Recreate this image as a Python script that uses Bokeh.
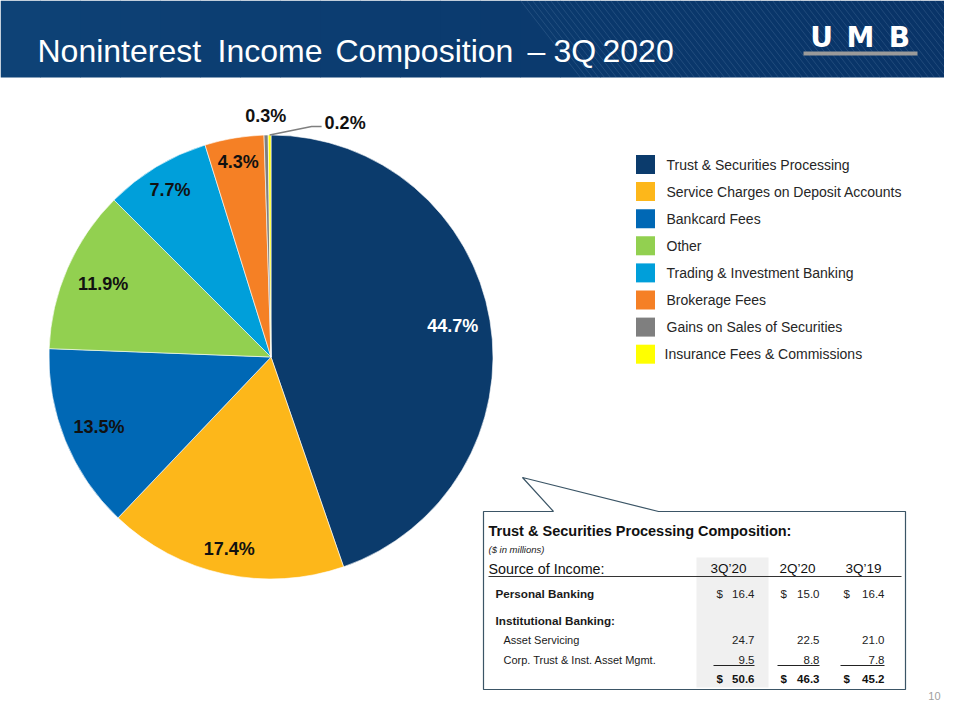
import math
from bokeh.plotting import figure
from bokeh.models import Range1d
from bokeh.core.properties import value
from bokeh.embed import file_html
from bokeh.resources import INLINE

# ---------------- data ----------------
title_words = ["Noninterest", "Income", "Composition", "–", "3Q", "2020"]
categories = ["Trust & Securities Processing", "Service Charges on Deposit Accounts",
              "Bankcard Fees", "Other", "Trading & Investment Banking",
              "Brokerage Fees", "Gains on Sales of Securities", "Insurance Fees & Commissions"]
shares = [44.7, 17.4, 13.5, 11.9, 7.7, 4.3, 0.3, 0.2]
colors = ["#0B3B6C", "#FDB71A", "#0068B5", "#92D050", "#009FDA", "#F58025", "#7F7F7F", "#FFFF00"]

table_title = "Trust & Securities Processing Composition:"
table_unit = "($ in millions)"
periods = ["3Q\u201920", "2Q\u201920", "3Q\u201919"]
personal_banking = [16.4, 15.0, 16.4]
asset_servicing = [24.7, 22.5, 21.0]
corp_trust = [9.5, 8.8, 7.8]
totals = [50.6, 46.3, 45.2]
page_number = "10"

# ---------------- layout helpers ----------------
F = "Liberation Sans"
H = 720


def Y(y):
    return H - y


p = figure(width=944, height=704, x_range=Range1d(0, 944), y_range=Range1d(16, 720),
           output_backend="svg", toolbar_location=None, min_border=0)
p.axis.visible = False
p.grid.visible = False
p.outline_line_color = None
p.background_fill_color = "white"
p.border_fill_color = "white"


def txt(x, y, s, size, style="normal", align="left", baseline="middle", color="#1a1a1a", font=F):
    p.text(x=[x], y=[Y(y)], text=[s], text_font=value(font), text_font_size=size,
           text_font_style=style, text_align=align, text_baseline=baseline, text_color=color)


# ---------------- title bar ----------------
n_strips = 24
for i in range(n_strips):
    t = i / (n_strips - 1)
    r = int(14 + (9 - 14) * t)
    g = int(66 + (52 - 66) * t)
    b = int(118 + (104 - 118) * t)
    x0 = i * 960 / n_strips
    p.quad(left=x0, right=x0 + 960 / n_strips + 0.5, top=Y(0), bottom=Y(77),
           fill_color=f"#{r:02x}{g:02x}{b:02x}", line_color=None)
# diagonal texture on right part of bar
xs, ys = [], []
x0 = 520
while x0 < 1040:
    xs.append([x0, x0 + 60])
    ys.append([Y(0), Y(77)])
    x0 += 6
p.multi_line(xs=xs, ys=ys, line_color="#9fc0e0", line_alpha=0.16, line_width=1)

title_x = [37, 217, 335, 527, 553, 602]
for w, x in zip(title_words, title_x):
    txt(x, 50, w, "32px", baseline="alphabetic", color="white")

# logo
for letter, cx_ in zip("UMB", [821, 860, 899]):
    txt(cx_, 37, letter, "28px", style="bold", align="center", color="white", font="DejaVu Sans")
p.quad(left=803, right=917, top=Y(51), bottom=Y(55), fill_color="#9a9a9a", line_color=None)

# ---------------- pie ----------------
cx, cy, R = 270.5, Y(356.5), 222.0
starts, ends, mids = [], [], []
cum = 0.0
for s in shares:
    a0 = math.pi / 2 - 2 * math.pi * cum / 100.0
    cum += s
    a1 = math.pi / 2 - 2 * math.pi * cum / 100.0
    starts.append(a0)
    ends.append(a1)
    mids.append((a0 + a1) / 2)
p.wedge(x=[cx] * len(shares), y=[cy] * len(shares), radius=R, start_angle=starts,
        end_angle=ends, direction="clock", fill_color=colors, line_color="white", line_width=0.6)

label_frac = [0.83, 0.885, 0.836, 0.825, 0.88, 0.89, 1.085]
for i, f in enumerate(label_frac):
    lx = cx + R * f * math.cos(mids[i])
    ly = cy + R * f * math.sin(mids[i])
    col = "white" if i == 0 else "#111111"
    p.text(x=[lx], y=[ly], text=[f"{shares[i]:.1f}%"], text_font=value(F), text_font_size="18px",
           text_font_style="bold", text_align="center", text_baseline="middle", text_color=col)
# small slice with leader line
ex = cx + R * math.cos(mids[7])
ey = cy + R * math.sin(mids[7])
p.line(x=[ex, ex + 42, ex + 52], y=[ey, ey + 8.5, ey + 8.5], line_color="#7F7F7F", line_width=1.5)
p.text(x=[ex + 55], y=[ey + 12], text=[f"{shares[7]:.1f}%"], text_font=value(F), text_font_size="18px",
       text_font_style="bold", text_align="left", text_baseline="middle", text_color="#111111")

# ---------------- legend ----------------
for i, (cat, col) in enumerate(zip(categories, colors)):
    yy = 164 + 27.1 * i
    p.rect(x=[645], y=[Y(yy)], width=19, height=19, fill_color=col, line_color=None)
    txt(666 if i < 7 else 664, yy, cat, "14px", color="#262626")

# ---------------- table with callout ----------------
box_x = [553, 483, 483, 905, 905, 658, 522, 553]
box_y = [511, 511, 689, 689, 511, 511, 477, 511]
p.patch(x=box_x, y=[Y(v) for v in box_y], fill_color="white", line_color="#3b5566", line_width=1.2)
p.quad(left=696, right=768, top=Y(557), bottom=Y(687), fill_color="#f0f0f0", line_color=None)

txt(488, 530, table_title, "14.5px", style="bold", color="#111111")
txt(488, 549, table_unit, "9.5px", style="italic", color="#222222")
txt(488, 568, "Source of Income:", "14.3px", color="#111111")
col_center = [728, 797, 863]
col_right = [754, 819, 884]
col_dollar = [716, 780, 843]
for c, per in zip(col_center, periods):
    txt(c, 568, per, "13.5px", align="center", color="#111111")
p.line(x=[488, 901], y=[Y(576), Y(576)], line_color="#333333", line_width=1.2)

txt(495, 593, "Personal Banking", "11.7px", style="bold")
txt(495, 620, "Institutional Banking:", "11.7px", style="bold")
txt(503, 639, "Asset Servicing", "11px")
txt(503, 659, "Corp. Trust & Inst. Asset Mgmt.", "11px")

for i in range(3):
    txt(col_dollar[i], 593, "$", "11.5px", color="#222222")
    txt(col_right[i], 593, f"{personal_banking[i]:.1f}", "11.5px", align="right", color="#222222")
    txt(col_right[i], 639, f"{asset_servicing[i]:.1f}", "11.5px", align="right", color="#222222")
    txt(col_right[i], 659, f"{corp_trust[i]:.1f}", "11.5px", align="right", color="#222222")
    p.line(x=[col_dollar[i] - 3, col_right[i]], y=[Y(665), Y(665)], line_color="#222222", line_width=1)
    txt(col_dollar[i], 678, "$", "11.5px", style="bold", color="#111111")
    txt(col_right[i], 678, f"{totals[i]:.1f}", "11.5px", style="bold", align="right", color="#111111")

# page number (kept inside the drawable area)
txt(940, 695, page_number, "11px", align="right", color="#a0a0a0")

open("out.html", "w").write(file_html(p, INLINE))
